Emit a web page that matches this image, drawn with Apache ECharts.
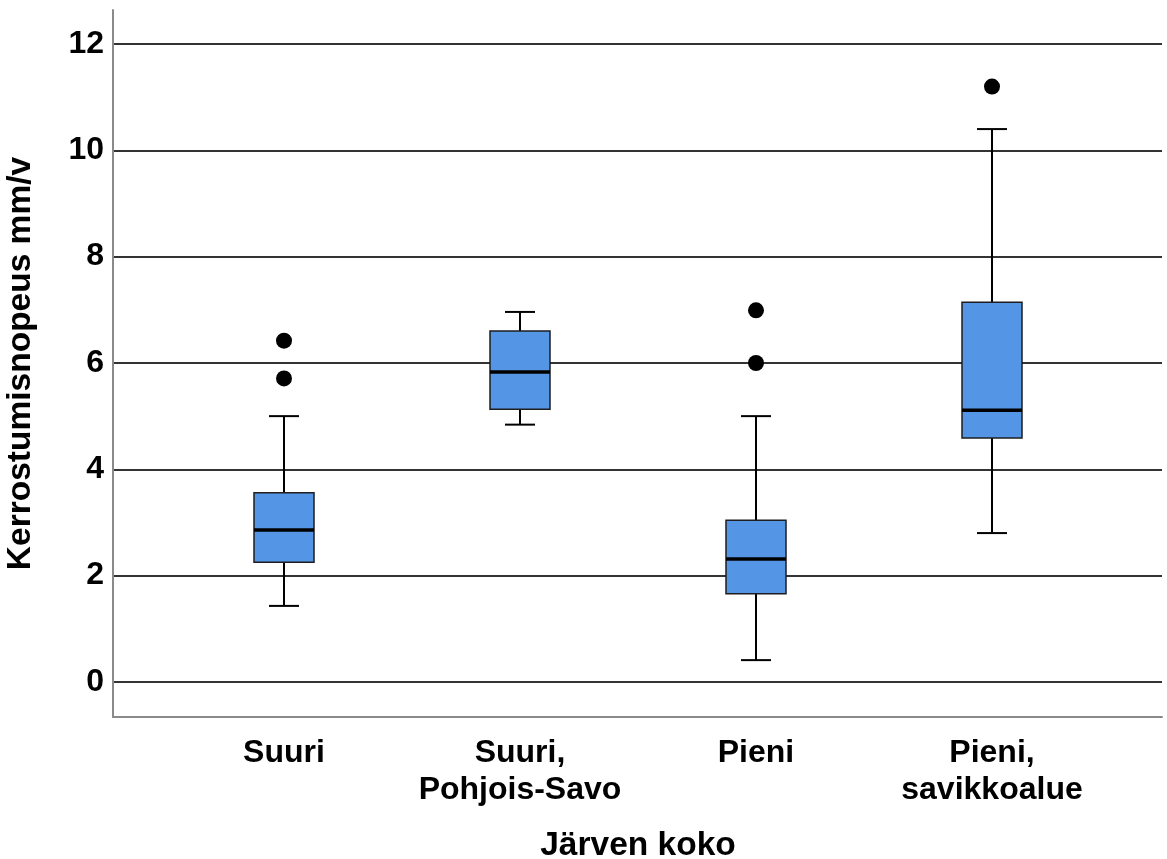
<!DOCTYPE html>
<html>
<head>
<meta charset="utf-8">
<script src="https://cdn.jsdelivr.net/npm/echarts@6/dist/echarts.min.js"></script>
<style>
html,body{margin:0;padding:0;background:#fff;}
#chart{width:1167px;height:859px;}
</style>
</head>
<body>
<div id="chart"></div>
<script>
// ---- data ----
var categories = ['Suuri', 'Suuri,\nPohjois-Savo', 'Pieni', 'Pieni,\nsavikkoalue'];
// [low whisker, Q1, median, Q3, high whisker]
var boxLow    = [1.43, 4.84, 0.41, 2.80];
var boxQ1     = [2.25, 5.13, 1.66, 4.59];
var boxMedian = [2.86, 5.83, 2.31, 5.11];
var boxQ3     = [3.56, 6.60, 3.04, 7.14];
var boxHigh   = [5.00, 6.96, 5.00, 10.40];
// outliers: [category index, value]
var outliers = [[0, 6.42], [0, 5.71], [2, 6.99], [2, 6.00], [3, 11.20]];
var yTicks = [0, 2, 4, 6, 8, 10, 12];
var yMin = -0.66, yMax = 12.64;

var FONT = 'Liberation Sans';
var boxData = categories.map(function (c, i) {
  return [i, boxLow[i], boxQ1[i], boxMedian[i], boxQ3[i], boxHigh[i]];
});

var chart = echarts.init(document.getElementById('chart'), null, {renderer: 'canvas'});

function renderBox(params, api) {
  var x = api.value(0);
  var pLow = api.coord([x, api.value(1)]);
  var pQ1 = api.coord([x, api.value(2)]);
  var pMed = api.coord([x, api.value(3)]);
  var pQ3 = api.coord([x, api.value(4)]);
  var pHigh = api.coord([x, api.value(5)]);
  var cx = pMed[0];
  var half = 30, capHalf = 15;
  var lineStyle = {stroke: '#000', lineWidth: 2};
  return {
    type: 'group',
    children: [
      {type: 'line', shape: {x1: cx, y1: pHigh[1], x2: cx, y2: pQ3[1]}, style: lineStyle},
      {type: 'line', shape: {x1: cx, y1: pQ1[1], x2: cx, y2: pLow[1]}, style: lineStyle},
      {type: 'line', shape: {x1: cx - capHalf, y1: pHigh[1], x2: cx + capHalf, y2: pHigh[1]}, style: lineStyle},
      {type: 'line', shape: {x1: cx - capHalf, y1: pLow[1], x2: cx + capHalf, y2: pLow[1]}, style: lineStyle},
      {type: 'rect', shape: {x: cx - half, y: pQ3[1], width: half * 2, height: pQ1[1] - pQ3[1]},
        style: {fill: '#5595E5', stroke: '#1e1e1e', lineWidth: 1.5}},
      {type: 'line', shape: {x1: cx - half, y1: pMed[1], x2: cx + half, y2: pMed[1]},
        style: {stroke: '#000', lineWidth: 3.5}}
    ]
  };
}

var option = {
  backgroundColor: '#fff',
  animation: false,
  grid: [
    {left: 113, right: 5, top: 10, bottom: 142, outerBoundsMode: 'none', containLabel: false},
    {left: 166, right: 57, top: 10, bottom: 142, outerBoundsMode: 'none', containLabel: false}
  ],
  xAxis: [
    {
      type: 'value', gridIndex: 0, min: 0, max: 1,
      axisLine: {show: true, onZero: false, lineStyle: {color: '#8a8a8a', width: 2}},
      axisTick: {show: false}, axisLabel: {show: false}, splitLine: {show: false}
    },
    {
      type: 'category', gridIndex: 1, data: categories,
      axisLine: {show: false}, axisTick: {show: false}, splitLine: {show: false},
      axisLabel: {
        interval: 0, margin: 18, color: '#000',
        fontFamily: FONT, fontWeight: 'bold', fontSize: 32, lineHeight: 37
      },
      name: 'Järven koko', nameLocation: 'middle', nameGap: 112,
      nameTextStyle: {color: '#000', fontFamily: FONT, fontWeight: 'bold', fontSize: 33.5}
    }
  ],
  yAxis: [
    {
      type: 'value', gridIndex: 0, min: yMin, max: yMax,
      axisLine: {show: true, lineStyle: {color: '#8a8a8a', width: 2}},
      axisTick: {show: false, customValues: yTicks},
      axisLabel: {
        customValues: yTicks, margin: 9, color: '#000',
        fontFamily: FONT, fontWeight: 'bold', fontSize: 32
      },
      splitLine: {show: true, lineStyle: {color: '#333', width: 2}},
      name: 'Kerrostumisnopeus mm/v', nameLocation: 'middle', nameGap: 75,
      nameTextStyle: {color: '#000', fontFamily: FONT, fontWeight: 'bold', fontSize: 33.5}
    },
    {
      type: 'value', gridIndex: 1, min: yMin, max: yMax, show: false,
      splitLine: {show: false}
    }
  ],
  series: [
    {
      type: 'custom', xAxisIndex: 1, yAxisIndex: 1,
      renderItem: renderBox,
      encode: {x: 0, y: [1, 2, 3, 4, 5]},
      data: boxData, z: 3
    },
    {
      type: 'scatter', xAxisIndex: 1, yAxisIndex: 1,
      symbol: 'circle', symbolSize: 16,
      itemStyle: {color: '#000', opacity: 1},
      data: outliers, z: 4
    }
  ]
};
chart.setOption(option);
</script>
</body>
</html>
